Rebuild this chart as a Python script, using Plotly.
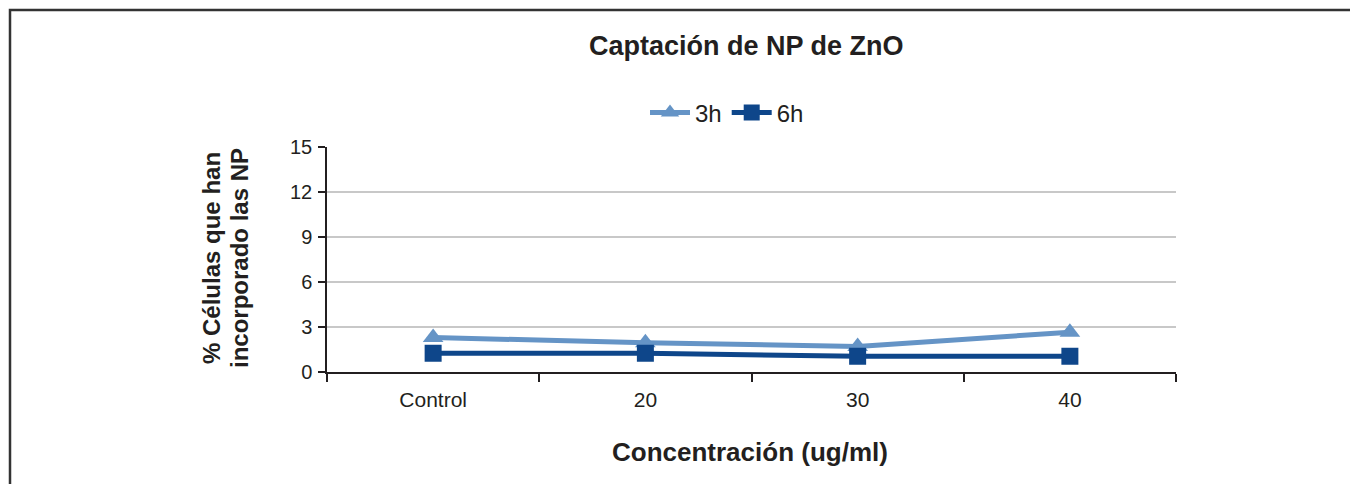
import plotly.graph_objects as go

categories = ["Control", "20", "30", "40"]
serie_3h = [2.3, 1.95, 1.7, 2.65]
serie_6h = [1.25, 1.25, 1.05, 1.05]
y_ticks = [0, 3, 6, 9, 12, 15]

c3 = "#6594C6"
c6 = "#0E468A"
font = "Liberation Sans, Arial, sans-serif"

# page offset (body margin) compensation
OFF = 8
L, R, T, B = 327 - OFF, 1176 - OFF, 147 - OFF, 372 - OFF
W, H = 1358 - OFF, 484 - OFF
pw, ph = R - L, B - T

def px(x):
    return (x - OFF - L) / pw

def py(y):
    return (B - (y - OFF)) / ph

fig = go.Figure()
fig.add_trace(go.Scatter(x=categories, y=serie_3h, name="3h", mode="lines+markers",
                         line=dict(color=c3, width=5),
                         marker=dict(symbol="triangle-up", size=18, color=c3)))
fig.add_trace(go.Scatter(x=categories, y=serie_6h, name="6h", mode="lines+markers",
                         line=dict(color=c6, width=5),
                         marker=dict(symbol="square", size=17, color=c6)))

fig.update_layout(
    width=W, height=H,
    margin=dict(l=L, r=W - R, t=T, b=H - B),
    paper_bgcolor="white", plot_bgcolor="white",
    font=dict(family=font, color="#231F20", size=20),
    showlegend=True,
    legend=dict(orientation="h", x=px(727), y=py(113), xanchor="center", yanchor="middle",
                font=dict(size=24), itemwidth=40, tracegroupgap=0,
                bgcolor="rgba(0,0,0,0)"),
    xaxis=dict(type="category", range=[-0.5, 3.5], tickson="boundaries",
               ticks="outside", ticklen=8, tickwidth=1.5, tickcolor="#231F20",
               showline=True, linecolor="#231F20", linewidth=1.5,
               showgrid=False, tickfont=dict(size=21), ticklabelstandoff=8,
               fixedrange=True),
    yaxis=dict(range=[0, 15], tickvals=y_ticks, ticks="outside", ticklen=7,
               tickwidth=1.5, tickcolor="#231F20",
               showline=True, linecolor="#231F20", linewidth=1.5,
               showgrid=True, gridcolor="#C8C8C8", gridwidth=1.5,
               zeroline=False, tickfont=dict(size=20), ticklabelstandoff=2,
               fixedrange=True),
)

fig.add_annotation(text="<b>Captación de NP de ZnO</b>", xref="paper", yref="paper",
                   x=px(746), y=py(46), xanchor="center", yanchor="middle",
                   showarrow=False, font=dict(size=27, family=font, color="#231F20"))
fig.add_annotation(text="<b>Concentración (ug/ml)</b>", xref="paper", yref="paper",
                   x=px(750), y=py(452), xanchor="center", yanchor="middle",
                   showarrow=False, font=dict(size=26, family=font, color="#231F20"))
fig.add_annotation(text="<b>% Células que han</b>", xref="paper", yref="paper",
                   x=px(211), y=py(258), xanchor="center", yanchor="middle", textangle=-90,
                   showarrow=False, font=dict(size=24, family=font, color="#231F20"))
fig.add_annotation(text="<b>incorporado las NP</b>", xref="paper", yref="paper",
                   x=px(239), y=py(258), xanchor="center", yanchor="middle", textangle=-90,
                   showarrow=False, font=dict(size=24, family=font, color="#231F20"))

fig.add_shape(type="rect", xref="paper", yref="paper",
              x0=px(10), x1=px(1450), y0=py(10), y1=py(560),
              line=dict(color="#333333", width=2.5), layer="below")

fig.write_html("out.html")
